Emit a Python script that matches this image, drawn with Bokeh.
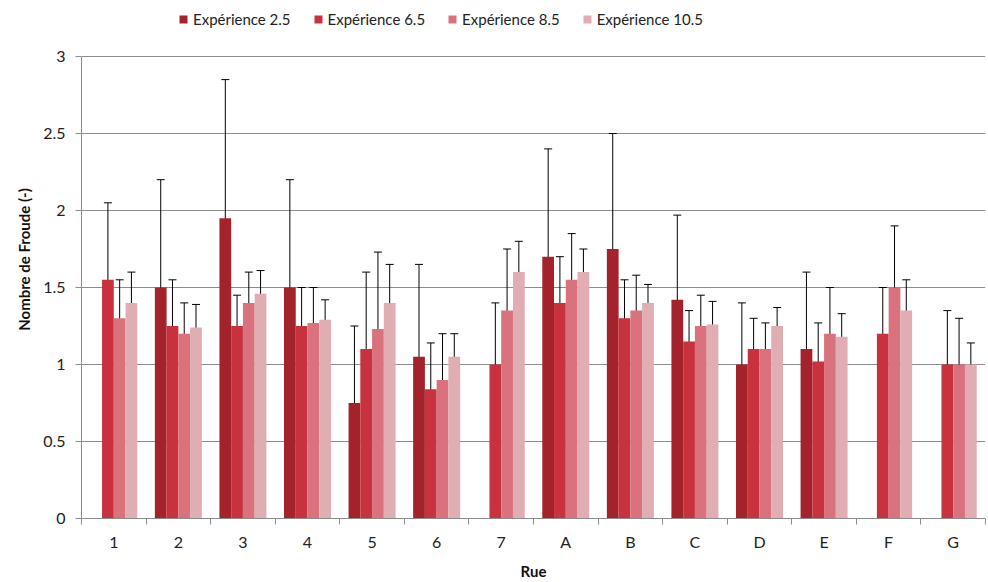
from bokeh.plotting import figure
from bokeh.models import (ColumnDataSource, Whisker, TeeHead, FixedTicker,
                          Legend, LegendItem, Range1d)
from bokeh.embed import file_html
from bokeh.resources import INLINE
import math

# Street labels
rues = ["1", "2", "3", "4", "5", "6", "7", "A", "B", "C", "D", "E", "F", "G"]

nan = float("nan")
# Mean Froude number per street, one list per experiment
exp_2_5 = [nan, 1.5, 1.95, 1.5, 0.75, 1.05, nan, 1.7, 1.75, 1.42, 1.0, 1.1, nan, nan]
exp_6_5 = [1.55, 1.25, 1.25, 1.25, 1.1, 0.84, 1.0, 1.4, 1.3, 1.15, 1.1, 1.02, 1.2, 1.0]
exp_8_5 = [1.3, 1.2, 1.4, 1.27, 1.23, 0.9, 1.35, 1.55, 1.35, 1.25, 1.1, 1.2, 1.5, 1.0]
exp_10_5 = [1.4, 1.24, 1.46, 1.29, 1.4, 1.05, 1.6, 1.6, 1.4, 1.26, 1.25, 1.18, 1.35, 1.0]

# Half-width of the error bars
err_2_5 = [nan, 0.7, 0.9, 0.7, 0.5, 0.6, nan, 0.7, 0.75, 0.55, 0.4, 0.5, nan, nan]
err_6_5 = [0.5, 0.3, 0.2, 0.25, 0.5, 0.3, 0.4, 0.3, 0.25, 0.2, 0.2, 0.25, 0.3, 0.35]
err_8_5 = [0.25, 0.2, 0.2, 0.23, 0.5, 0.3, 0.4, 0.3, 0.23, 0.2, 0.17, 0.3, 0.4, 0.3]
err_10_5 = [0.2, 0.15, 0.15, 0.13, 0.25, 0.15, 0.2, 0.15, 0.12, 0.15, 0.12, 0.15, 0.2, 0.14]

series_names = ["Expérience 2.5", "Expérience 6.5", "Expérience 8.5", "Expérience 10.5"]
series_values = [exp_2_5, exp_6_5, exp_8_5, exp_10_5]
series_errors = [err_2_5, err_6_5, err_8_5, err_10_5]
colors = ["#a3222c", "#c8323e", "#d9727c", "#dfadb2"]

y_ticks = [0, 0.5, 1, 1.5, 2, 2.5, 3]
Y_MAX = 3

FONT = "Lato"
GRID = "#8c8c8c"

# The frame runs to the top of the canvas so the legend can sit above the
# last gridline; the value axis itself stops at Y_MAX.
W, H = 988, 582
BOTTOM, TOP_GAP = 64, 56
frame_h = H - BOTTOM
y_end = Y_MAX * frame_h / (frame_h - TOP_GAP)

p = figure(width=W, height=H, output_backend="svg", toolbar_location=None,
           x_range=Range1d(0, len(rues)), y_range=Range1d(0, y_end),
           min_border_left=81, min_border_right=3, min_border_top=0,
           min_border_bottom=BOTTOM)
p.outline_line_color = None
p.background_fill_color = "white"
p.border_fill_color = "white"

bar_w = 0.182
offsets = [-1.5, -0.5, 0.5, 1.5]
items = []
for name, vals, errs, col, off in zip(series_names, series_values, series_errors, colors, offsets):
    xs, tops, lo, hi = [], [], [], []
    for i, (v, e) in enumerate(zip(vals, errs)):
        if math.isnan(v):
            continue
        xs.append(i + 0.5 + off * bar_w)
        tops.append(v)
        lo.append(v - e)
        hi.append(v + e)
    src = ColumnDataSource(dict(x=xs, top=tops, lower=lo, upper=hi))
    r = p.vbar(x="x", top="top", bottom=0, width=bar_w, source=src,
               fill_color=col, line_color=None)
    items.append(LegendItem(label=name, renderers=[r]))
    w = Whisker(base="x", lower="lower", upper="upper", source=src,
                line_color="black", line_width=1,
                upper_head=TeeHead(size=8, line_color="black", line_width=1),
                lower_head=TeeHead(size=8, line_color="black", line_width=1))
    p.add_layout(w)

# x axis: labels at centres, tick marks at street boundaries
centers = [i + 0.5 for i in range(len(rues))]
p.xaxis.ticker = FixedTicker(ticks=centers, minor_ticks=list(range(len(rues) + 1)))
p.xaxis.major_label_overrides = {c: r for c, r in zip(centers, rues)}
p.xaxis.major_tick_line_color = None
p.xaxis.major_tick_out = 0
p.xaxis.major_tick_in = 0
p.xaxis.minor_tick_line_color = GRID
p.xaxis.minor_tick_out = 6
p.xaxis.minor_tick_in = 0
p.xaxis.axis_line_color = GRID
p.xaxis.major_label_standoff = 7
p.xaxis.axis_label = "Rue"
p.xaxis.axis_label_standoff = 8

p.yaxis.ticker = FixedTicker(ticks=y_ticks)
p.yaxis.bounds = (0, Y_MAX)
p.yaxis.major_label_overrides = {0: "0", 1: "1", 2: "2", 3: "3"}
p.yaxis.major_tick_line_color = GRID
p.yaxis.major_tick_out = 6
p.yaxis.major_tick_in = 0
p.yaxis.minor_tick_line_color = None
p.yaxis.axis_line_color = GRID
p.yaxis.major_label_standoff = 10
p.yaxis.axis_label = "Nombre de Froude (-)"
p.yaxis.axis_label_standoff = 7

for ax in (p.xaxis, p.yaxis):
    ax.major_label_text_font = FONT
    ax.major_label_text_font_size = "16px"
    ax.major_label_text_color = "#222222"
    ax.axis_label_text_font = FONT
    ax.axis_label_text_font_size = "15px"
    ax.axis_label_text_font_style = "bold"
    ax.axis_label_text_color = "#111111"

p.xgrid.grid_line_color = None
p.ygrid.ticker = FixedTicker(ticks=y_ticks)
p.ygrid.grid_line_color = GRID
p.ygrid.grid_line_width = 1

# Legend in the strip above the top gridline
legend = Legend(items=items, orientation="horizontal", location=(97, frame_h - 28),
                label_text_font=FONT, label_text_font_size="15px",
                label_text_color="#222222", glyph_width=10, glyph_height=10,
                spacing=22, label_standoff=5, padding=0, margin=0,
                border_line_color=None, background_fill_alpha=0)
p.add_layout(legend, "center")

open("out.html", "w").write(file_html(p, INLINE))
